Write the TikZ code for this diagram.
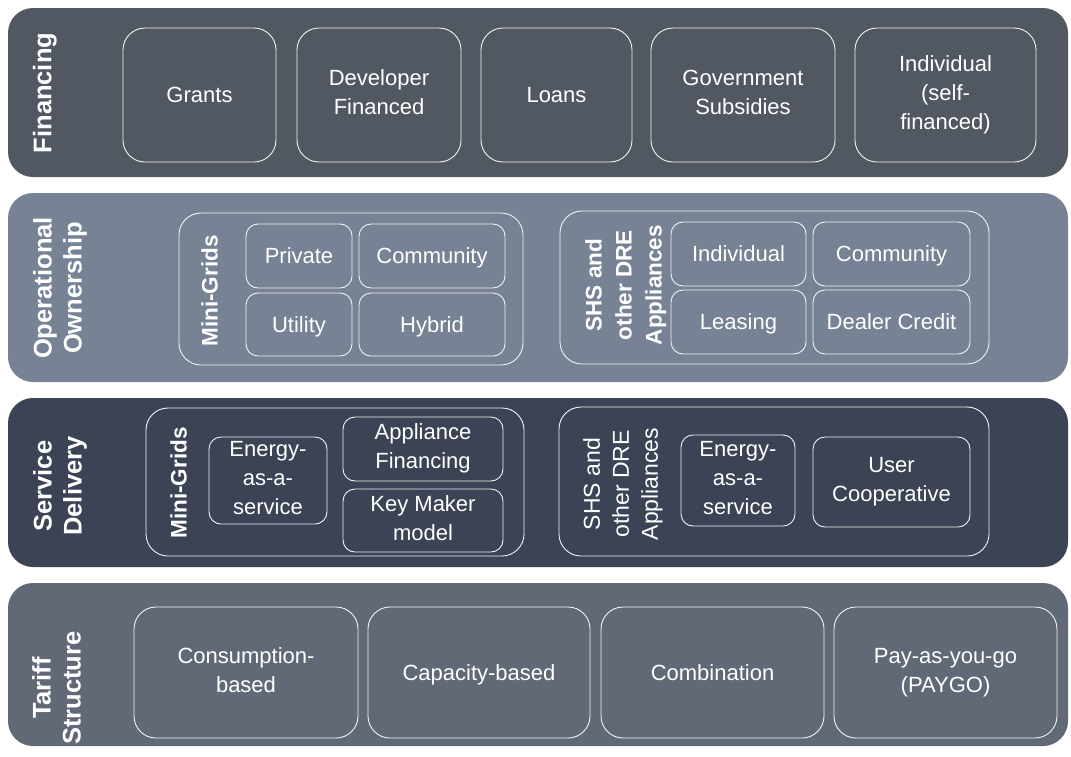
\documentclass[tikz,border=0pt]{standalone}
\usepackage{fontspec}
\setmainfont{Liberation Sans}
\definecolor{bandA}{HTML}{525862}
\definecolor{bandB}{HTML}{778294}
\definecolor{bandC}{HTML}{3B4354}
\definecolor{bandD}{HTML}{626976}
\definecolor{edge}{HTML}{F2F2F2}
\newcommand\txtstrut{\rule[-5pt]{0pt}{25pt}}
\tikzset{
  band/.style={rounded corners=25pt, inner sep=0pt, draw=none},
  txt/.style={execute at begin node=\txtstrut, execute at end node=\txtstrut},
  bigbox/.style={draw=edge, line width=0.9pt, rounded corners=22pt, inner sep=0pt, text=white, align=center,
    font=\fontsize{22}{29}\selectfont, txt},
  smallbox/.style={draw=edge, line width=0.9pt, rounded corners=12pt, inner sep=0pt, text=white, align=center,
    font=\fontsize{22}{29}\selectfont, txt},
  groupbox/.style={draw=edge, line width=0.9pt, rounded corners=22pt, inner sep=0pt},
  bandlabel/.style={rotate=90, text=white, align=center, inner sep=0pt,
    font=\fontsize{25.5}{30}\selectfont\bfseries, txt},
  grouplabel/.style={rotate=90, text=white, align=center, inner sep=0pt,
    font=\fontsize{22.5}{30}\selectfont\bfseries, txt},
  grouplabelreg/.style={rotate=90, text=white, align=center, inner sep=0pt,
    font=\fontsize{23}{29}\selectfont, txt},
}
\begin{document}
\begin{tikzpicture}[x=1pt,y=-1pt]
\useasboundingbox (0,0) rectangle (1071,756);
% bands
\node[band, fill=bandA, minimum width=1060pt, minimum height=169pt] (b1) at (538,92.5) {};
\node[band, fill=bandB, minimum width=1060pt, minimum height=189pt] (b2) at (538,287.5) {};
\node[band, fill=bandC, minimum width=1060pt, minimum height=169pt] (b3) at (538,482.5) {};
\node[band, fill=bandD, minimum width=1060pt, minimum height=163pt] (b4) at (538,664.5) {};
% band labels
\node[bandlabel] (l1) at (44,93) {Financing};
\node[bandlabel] (l2) at (60,288) {Operational\\Ownership};
\node[bandlabel] (l3) at (60,486) {Service\\Delivery};
\node[bandlabel] (l4) at (59,688) {Tariff\\Structure};
% Financing
\node[bigbox, minimum width=153pt, minimum height=134pt] (grants) at (199.5,95) {Grants};
\node[bigbox, minimum width=164pt, minimum height=134pt] (dev) at (379,95) {Developer\\Financed};
\node[bigbox, minimum width=151pt, minimum height=134pt] (loans) at (556.5,95) {Loans};
\node[bigbox, minimum width=184pt, minimum height=134pt] (gov) at (743,95) {Government\\Subsidies};
\node[bigbox, minimum width=181pt, minimum height=134pt] (indiv) at (945.5,95) {Individual\\(self-\\financed)};
% Operational Ownership
\node[groupbox, minimum width=344pt, minimum height=152pt] (oomg) at (351,289) {};
\node[grouplabel] (oomgl) at (210,291) {Mini-Grids};
\node[smallbox, minimum width=106pt, minimum height=64pt] (priv) at (299,256) {Private};
\node[smallbox, minimum width=146pt, minimum height=64pt] (comm) at (432,256) {Community};
\node[smallbox, minimum width=106pt, minimum height=63pt] (util) at (299,324.5) {Utility};
\node[smallbox, minimum width=146pt, minimum height=63pt] (hyb) at (432,324.5) {Hybrid};
\node[groupbox, minimum width=429pt, minimum height=153pt] (ooshs) at (774.5,287.5) {};
\node[grouplabel] (ooshsl) at (626,285) {SHS and\\other DRE\\Appliances};
\node[smallbox, minimum width=135pt, minimum height=64pt] (oind) at (738.5,254) {Individual};
\node[smallbox, minimum width=157pt, minimum height=64pt] (ocomm) at (891.5,254) {Community};
\node[smallbox, minimum width=135pt, minimum height=64pt] (lease) at (738.5,322) {Leasing};
\node[smallbox, minimum width=157pt, minimum height=64pt] (dealer) at (891.5,322) {Dealer Credit};
% Service Delivery
\node[groupbox, minimum width=378pt, minimum height=148pt] (sdmg) at (335,482) {};
\node[grouplabel] (sdmgl) at (179,483) {Mini-Grids};
\node[smallbox, minimum width=118pt, minimum height=87pt] (eaas1) at (268,480.5) {Energy-\\as-a-\\service};
\node[smallbox, minimum width=160pt, minimum height=64pt] (appf) at (423,449) {Appliance\\Financing};
\node[smallbox, minimum width=160pt, minimum height=63pt] (keym) at (423,520.5) {Key Maker\\model};
\node[groupbox, minimum width=430pt, minimum height=149pt] (sdshs) at (774,481.5) {};
\node[grouplabelreg] (sdshsl) at (623,484) {SHS and\\other DRE\\Appliances};
\node[smallbox, minimum width=114pt, minimum height=91pt] (eaas2) at (738,480.5) {Energy-\\as-a-\\service};
\node[smallbox, minimum width=157pt, minimum height=90pt] (ucoop) at (891.5,482) {User\\Cooperative};
% Tariff Structure
\node[bigbox, minimum width=224pt, minimum height=131pt] (cons) at (246,672.5) {Consumption-\\based};
\node[bigbox, minimum width=222pt, minimum height=131pt] (cap) at (479,672.5) {Capacity-based};
\node[bigbox, minimum width=223pt, minimum height=131pt] (combo) at (712.5,672.5) {Combination};
\node[bigbox, minimum width=223pt, minimum height=131pt] (paygo) at (945.5,672.5) {Pay-as-you-go\\(PAYGO)};
\end{tikzpicture}
\end{document}
